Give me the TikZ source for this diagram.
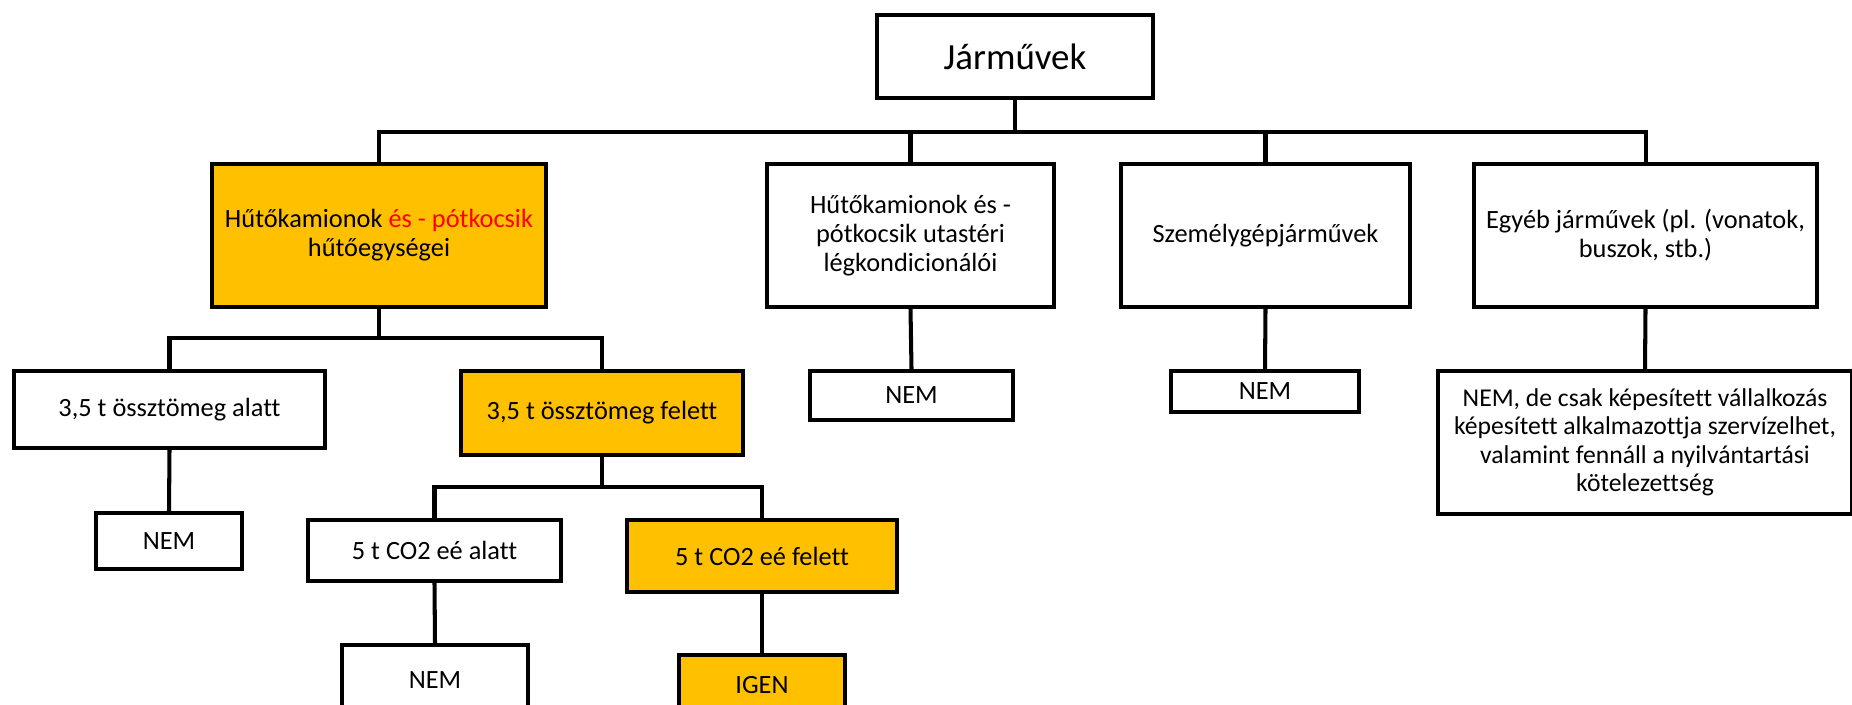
\documentclass[tikz,border=0pt]{standalone}
\usepackage{fontspec}
\setmainfont{Carlito}[Ligatures = NoCommon]
\usepackage{xcolor}
\usepackage{tikz}
\definecolor{gold}{HTML}{FFC000}
\tikzset{
	box/.style = {draw, line width = 2.3pt, fill = white, inner sep = 0pt, align = center, font = \fontsize{15}{16.5}\selectfont},
	hit/.style = {box, fill = gold},
	conn/.style = {line width = 2.3pt}
}

\begin{document}
\begin{tikzpicture}[x = 0.02cm, y = -0.02cm]
	\useasboundingbox (0, 0) rectangle (1852, 704);
	\clip (0, 0) rectangle (1852, 704);
	\node[box, minimum width = 5.52cm, minimum height = 1.66cm, font = \fontsize{21}{24}\selectfont] (root) at (1015, 56.5) {Járművek};
	\node[hit, minimum width = 6.68cm, minimum height = 2.86cm] (b1) at (379, 235.5) {Hűtőkamionok \textcolor{red}{és - pótkocsik}\\hűtőegységei};
	\node[box, minimum width = 5.74cm, minimum height = 2.86cm] (b2) at (910.5, 235.5) {Hűtőkamionok és -\\pótkocsik utastéri\\légkondicionálói};
	\node[box, minimum width = 5.78cm, minimum height = 2.86cm] (b3) at (1265.5, 235.5) {Személygépjárművek};
	\node[box, minimum width = 6.86cm, minimum height = 2.86cm] (b4) at (1645.5, 235.5) {Egyéb járművek (pl. (vonatok,\\buszok, stb.)};
	\node[box, minimum width = 6.22cm, minimum height = 1.54cm] (c1) at (169.5, 409.5) {3,5 t össztömeg alatt};
	\node[hit, minimum width = 5.64cm, minimum height = 1.68cm] (c2) at (602, 413) {3,5 t össztömeg felett};
	\node[box, minimum width = 4.06cm, minimum height = 0.98cm] (n2) at (911.5, 395.5) {NEM};
	\node[box, minimum width = 3.76cm, minimum height = 0.82cm] (n3) at (1265, 391.5) {NEM};
	\node[box, minimum width = 8.28cm, minimum height = 2.86cm, font = \fontsize{14.6}{16.2}\selectfont] (n4) at (1645, 442.5) {NEM, de csak képesített vállalkozás\\képesített alkalmazottja szervízelhet,\\valamint fennáll a nyilvántartási\\kötelezettség};
	\node[box, minimum width = 2.92cm, minimum height = 1.12cm] (d1) at (169, 541) {NEM};
	\node[box, minimum width = 5.06cm, minimum height = 1.22cm] (d2) at (434.5, 550.5) {5 t CO2 eé alatt};
	\node[hit, minimum width = 5.40cm, minimum height = 1.44cm] (d3) at (762, 556) {5 t CO2 eé felett};
	\node[box, minimum width = 3.72cm, minimum height = 1.40cm] (e1) at (435, 680) {NEM};
	\node[hit, minimum width = 3.32cm, minimum height = 1.20cm] (e2) at (762, 685) {IGEN};
	\coordinate (bus1) at (0, 132);
	\coordinate (bus2) at (0, 338);
	\coordinate (bus3) at (0, 487);
	\foreach \p/\c/\b in {root/b1/bus1, root/b2/bus1, root/b3/bus1, root/b4/bus1, b1/c1/bus2, b1/c2/bus2, c2/d2/bus3, c2/d3/bus3}{
		\draw[conn] (\p.south) -- (\p.south |- \b) -| (\c.north);}
	\foreach \p/\c in {b2/n2, b3/n3, b4/n4, c1/d1, d2/e1, d3/e2}{
		\draw[conn] (\p.south) -- (\c.north);}
\end{tikzpicture}
\end{document}
